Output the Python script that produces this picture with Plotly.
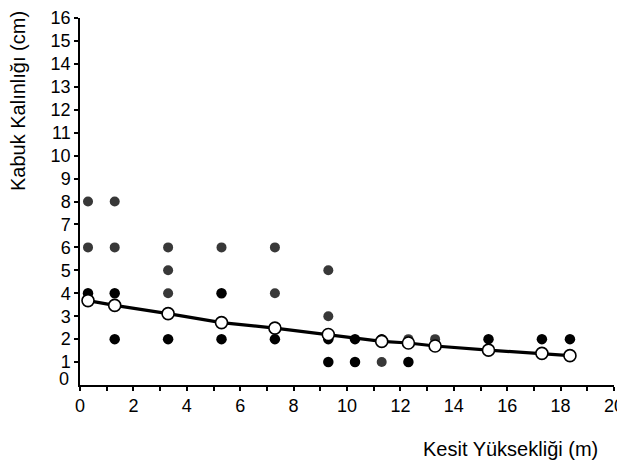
import plotly.graph_objects as go

# Individual measurements (black = solid, gray = hatched appearance)
black_x = [0.3, 1.3, 1.3, 3.3, 5.3, 5.3, 7.3, 9.3, 9.3, 10.3, 10.3, 11.3, 12.3, 15.3, 17.3, 18.35]
black_y = [4, 4, 2, 2, 4, 2, 2, 2, 1, 2, 1, 2, 1, 2, 2, 2]
gray_x = [0.3, 0.3, 1.3, 1.3, 3.3, 3.3, 3.3, 5.3, 7.3, 7.3, 9.3, 9.3, 11.3, 12.3, 13.3]
gray_y = [8, 6, 8, 6, 6, 5, 4, 6, 6, 4, 5, 3, 1, 2, 2]

# Mean trend
mean_x = [0.3, 1.3, 3.3, 5.3, 7.3, 9.3, 10.3, 11.3, 12.3, 13.3, 15.3, 17.3, 18.35]
mean_y = [3.68, 3.47, 3.11, 2.72, 2.48, 2.2, 2.03, 1.9, 1.83, 1.7, 1.52, 1.38, 1.28]

x_ticks = list(range(0, 21, 2))
y_ticks = list(range(1, 17))

FONT = "Liberation Sans, Arial, sans-serif"
OFF = 8  # page body margin offset
W, H = 625 - OFF, 465 - OFF
L, R, T, B = 72, 11, 10, 80
PW, PH = W - L - R, H - T - B


def page_to_paper(px, py):
    return (px - OFF - L) / PW, (H - B - (py - OFF)) / PH


fig = go.Figure()
fig.add_trace(go.Scatter(x=mean_x, y=mean_y, mode="lines",
                         line=dict(color="black", width=3.2), showlegend=False))
fig.add_trace(go.Scatter(x=gray_x, y=gray_y, mode="markers",
                         marker=dict(color="#383838", size=10, opacity=1, line=dict(width=0)),
                         showlegend=False))
fig.add_trace(go.Scatter(x=black_x, y=black_y, mode="markers",
                         marker=dict(color="black", size=10.5, opacity=1, line=dict(width=0)),
                         showlegend=False))
fig.add_trace(go.Scatter(x=mean_x, y=mean_y, mode="markers",
                         marker=dict(color="#ffffff", opacity=1,
                                     size=[12 if x != 10.3 else 0 for x in mean_x],
                                     line=dict(color="black", width=1.6)),
                         showlegend=False))

ytx, yty = page_to_paper(18, 101)
xtx, xty = page_to_paper(510, 449)

fig.update_layout(
    width=W, height=H,
    margin=dict(l=L, r=R, t=T, b=B, autoexpand=False),
    paper_bgcolor="white", plot_bgcolor="white",
    font=dict(family=FONT, size=17, color="black"),
    xaxis=dict(range=[0, 20], tickvals=x_ticks, ticks="outside", ticklen=4, tickwidth=1.5,
               tickcolor="black", showline=True, linecolor="black", linewidth=1.5,
               showgrid=False, zeroline=False, automargin=False,
               ticklabeloverflow="allow", tickfont=dict(size=18),
               minor=dict(dtick=1, ticks="outside", ticklen=4, tickwidth=1.5, tickcolor="black")),
    yaxis=dict(range=[0, 16], tickvals=y_ticks, ticks="outside", ticklen=4, tickwidth=1.5,
               tickcolor="black", showline=True, linecolor="black", linewidth=1.5,
               showgrid=False, zeroline=False, automargin=False,
               ticklabeloverflow="allow", tickfont=dict(size=18)),
    annotations=[
        dict(text="0", x=0, y=0, xref="paper", yref="y", xanchor="right", yanchor="middle",
             xshift=-9, yshift=6, showarrow=False, font=dict(size=18)),
        dict(text="Kabuk Kalınlığı (cm)", x=ytx, y=yty, xref="paper", yref="paper",
             xanchor="center", yanchor="middle",
             showarrow=False, textangle=-90, font=dict(size=20)),
        dict(text="Kesit Yüksekliği (m)", x=xtx, y=xty, xref="paper", yref="paper",
             xanchor="center", yanchor="middle",
             showarrow=False, font=dict(size=20)),
    ],
)

fig.write_html("out.html")
